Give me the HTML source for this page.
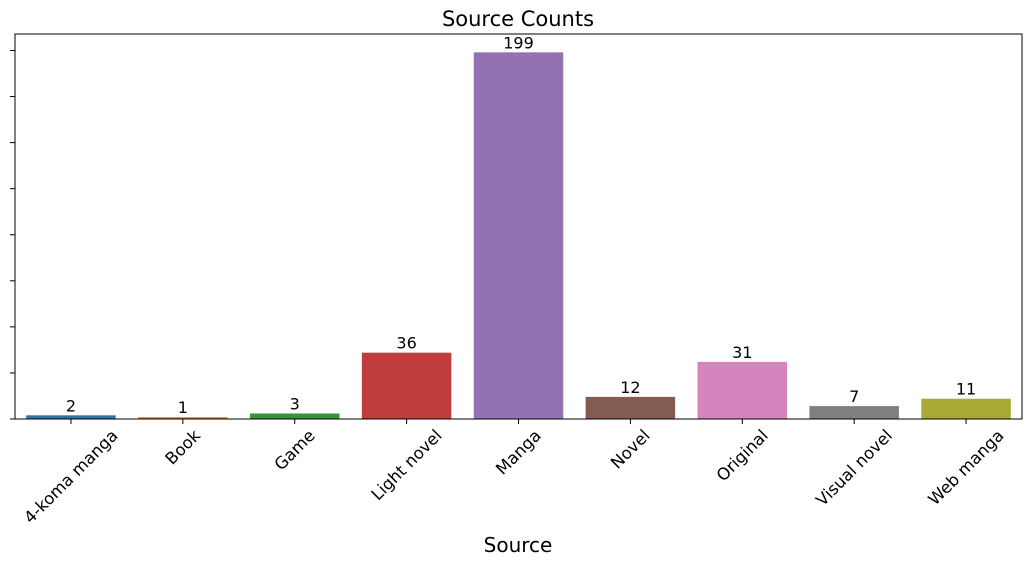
<!DOCTYPE html>
<html><head><meta charset="utf-8"><style>
body{margin:0;background:#fff;}
svg{display:block;font-family:"DejaVu Sans","Liberation Sans",sans-serif;}
</style></head><body>
<svg id="chart" width="1032" height="565"></svg>
<script>
const categories=["4-koma manga","Book","Game","Light novel","Manga","Novel","Original","Visual novel","Web manga"];
const counts=[2,1,3,36,199,12,31,7,11];
const yTicks=[0,25,50,75,100,125,150,175,200];
const colors=["#3274a1","#e1812c","#3a923a","#c03d3e","#9372b2","#845b53","#d684bd","#7f7f7f","#a9aa35"];
const L=15,R=1022,T=34,B=419;
const yMax=Math.max(...counts)*1.05;
const y=v=>B-(v/yMax)*(B-T);
const band=(R-L)/categories.length;
const x=i=>L+band*(i+0.5);
const NS="http://www.w3.org/2000/svg";
const svg=document.getElementById('chart');
function mk(tag,attrs,text){const e=document.createElementNS(NS,tag);for(const k in attrs)e.setAttribute(k,attrs[k]);if(text!==undefined)e.textContent=text;svg.appendChild(e);return e;}
const title=mk('text',{x:518,y:26,'text-anchor':'middle','font-size':21,fill:'#000'},'Source Counts');


categories.forEach((c,i)=>{
  const bw=band*0.8;
  const r=mk('rect',{x:x(i)-bw/2,y:y(counts[i]),width:bw,height:B-y(counts[i]),fill:colors[i]});
  
  
  const v=mk('text',{x:x(i),y:y(counts[i])-4,'text-anchor':'middle','font-size':16,fill:'#000'},String(counts[i]));
  
  
  const tk=mk('line',{x1:x(i),x2:x(i),y1:B,y2:B+5,stroke:'#000','stroke-width':1});
  
  
  const tl=mk('text',{x:0,y:0,'text-anchor':'middle','dominant-baseline':'central','font-size':16.5,fill:'#000'},c);
  
  
  const w=tl.getComputedTextLength();
  const h=16;
  const cy=B+8+(w+h)*0.7071/2;
  tl.setAttribute('x',x(i));
  tl.setAttribute('y',cy);
  tl.setAttribute('transform',`rotate(-45 ${x(i)} ${cy})`);
});
yTicks.forEach(t=>{
  const tk=mk('line',{x1:L-5,x2:L,y1:y(t),y2:y(t),stroke:'#000','stroke-width':1});
  
  
});
const frame=mk('rect',{x:L,y:T,width:R-L,height:B-T,fill:'none',stroke:'#000','stroke-width':1});


const xt=mk('text',{x:518,y:552,'text-anchor':'middle','font-size':20,fill:'#000'},'Source');


</script>
</body></html>
